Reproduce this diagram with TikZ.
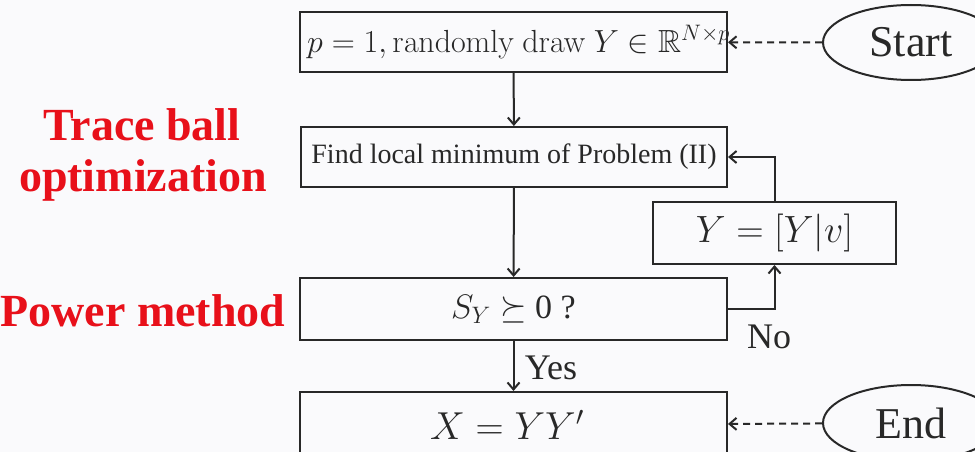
\RequirePackage{fix-cm}
\documentclass[tikz,border=0pt]{standalone}
\usepackage{amssymb}
\usepackage[no-math]{fontspec}
\setmainfont{Liberation Serif}
\usetikzlibrary{arrows.meta,shapes.geometric}
\definecolor{lblred}{RGB}{232,16,26}
\definecolor{bg}{RGB}{250,250,252}
\definecolor{ink}{RGB}{40,40,40}
\begin{document}
\begin{tikzpicture}[x=1pt,y=-1pt,
  box/.style={draw=ink,line width=2pt,rectangle,inner sep=0pt,text=ink},
  oval/.style={draw=ink,line width=2pt,ellipse,inner sep=0pt,text=ink},
  conn/.style={draw=ink,line width=2pt,-{Straight Barb[length=7pt,width=12pt,line width=2pt]}},
  dconn/.style={conn,dashed,dash pattern=on 7pt off 5pt},
  redlbl/.style={text=lblred,font=\fontsize{46}{50}\selectfont\bfseries,inner sep=0pt},
  small/.style={font=\fontsize{36}{40}\selectfont,text=ink,inner sep=0pt}]
\fill[bg] (0,0) rectangle (975,452);
\clip (0,0) rectangle (975,452);
\node[box,minimum width=427pt,minimum height=60pt] (b1) at (513.5,42) {};
\node[text=ink,inner sep=0pt,font=\fontsize{32}{36}\selectfont,anchor=west] (b1t) at (307,42) {$p=1,\mathrm{randomly\ draw}\ Y\in\mathbb{R}^{N\times p}$};
\node[box,minimum width=426pt,minimum height=60pt,font=\fontsize{28}{30}\selectfont] (b2) at (514,157) {Find local minimum of Problem (II)};
\node[box,minimum width=243pt,minimum height=62pt,font=\fontsize{38}{42}\selectfont] (by) at (774.5,233) {$Y=[Y|v]$};
\node[box,minimum width=427pt,minimum height=62pt,font=\fontsize{34}{38}\selectfont] (bs) at (513.5,309) {$S_Y\succeq$ 0 ?};
\node[box,minimum width=427pt,minimum height=66pt] (bx) at (513.5,425) {};
\node[text=ink,inner sep=0pt,font=\fontsize{39}{43}\selectfont] (bxt) at (507,425) {$X=YY'$};
\node[oval,minimum width=176pt,minimum height=75pt,font=\fontsize{44}{48}\selectfont] (start) at (911,42.5) {Start};
\node[oval,minimum width=176pt,minimum height=76pt,font=\fontsize{44}{48}\selectfont] (end) at (911,423) {End};
\draw[conn] (b1) -- (b2);
\draw[conn] (b2) -- (bs);
\draw[conn] (bs) -- (bx);
\draw[conn] (bs.east) -| (by.south);
\draw[conn] (by.north) |- (b2.east);
\draw[dconn] (start) -- (b1);
\draw[dconn] (end) -- (bx);
\node[small] (yes) at (551,368) {Yes};
\node[small] (no) at (769,337) {No};
\node[redlbl] (t1) at (142,125) {Trace ball};
\node[redlbl] (t2) at (143,180) {optimization};
\node[redlbl] (t3) at (143,311) {Power method};
\end{tikzpicture}
\end{document}
